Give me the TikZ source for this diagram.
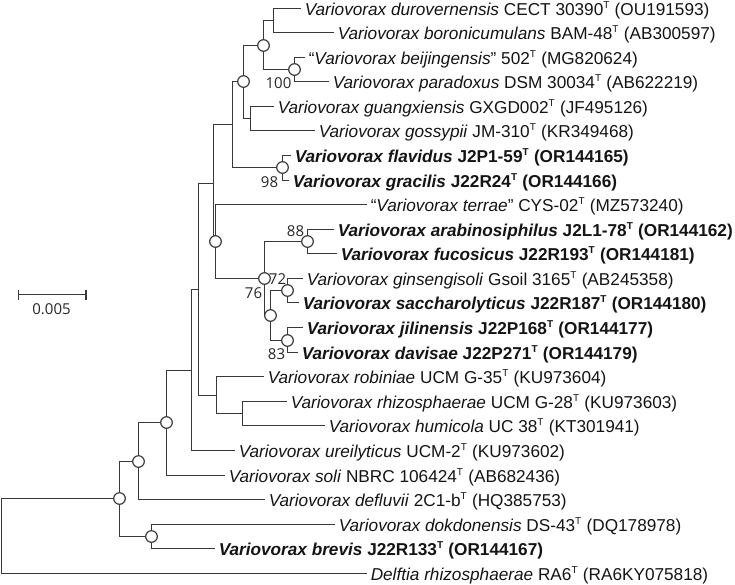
\documentclass[tikz,border=0pt]{standalone}
\usepackage{fontspec}
\setmainfont{Liberation Sans}
\newfontfamily\bsfont{Open Sans}
\usetikzlibrary{arrows.meta}
\newcommand\supT{\textsuperscript{\fontsize{10}{10}\selectfont T}}

\begin{document}
\begin{tikzpicture}
    [x=1pt, y=-1pt,
    line width=1.5pt,
    draw=black!78,
    taxon/.style={
      anchor=west,
      inner xsep=3pt,
      inner ysep=0pt,
      text height=16pt,
      text depth=3pt,
      text=black!92,
      font=\fontsize{17.2}{20}\selectfont},
    bsnode/.style={
      circle,
      draw=black!78,
      fill=white,
      line width=1.2pt,
      minimum size=11.6pt,
      inner sep=0pt},
    bslabel/.style={
      inner sep=0pt,
      text=black!85,
      font=\bsfont\fontsize{15}{17}\selectfont}
    ]
    \useasboundingbox (0,0) rectangle (735,584);

    % taxa
    \node (t1) [taxon] at (301, 8.5) {\textit{Variovorax durovernensis} CECT 30390\supT{} (OU191593)};
    \node (t2) [taxon] at (334, 32.5) {\textit{Variovorax boronicumulans} BAM-48\supT{} (AB300597)};
    \node (t3) [taxon] at (305, 57.5) {“\textit{Variovorax beijingensis}” 502\supT{} (MG820624)};
    \node (t4) [taxon] at (329, 81.5) {\textit{Variovorax paradoxus} DSM 30034\supT{} (AB622219)};
    \node (t5) [taxon] at (274, 106.5) {\textit{Variovorax guangxiensis} GXGD002\supT{} (JF495126)};
    \node (t6) [taxon] at (315, 130.5) {\textit{Variovorax gossypii} JM-310\supT{} (KR349468)};
    \node (t7) [taxon] at (291, 155.5) {\textbf{\textit{Variovorax flavidus} J2P1-59\supT{} (OR144165)}};
    \node (t8) [taxon] at (289, 180.5) {\textbf{\textit{Variovorax gracilis} J22R24\supT{} (OR144166)}};
    \node (t9) [taxon] at (367, 204.5) {“\textit{Variovorax terrae}” CYS-02\supT{} (MZ573240)};
    \node (t10) [taxon] at (334, 229.5) {\textbf{\textit{Variovorax arabinosiphilus} J2L1-78\supT{} (OR144162)}};
    \node (t11) [taxon] at (337, 253.5) {\textbf{\textit{Variovorax fucosicus} J22R193\supT{} (OR144181)}};
    \node (t12) [taxon] at (303, 278.5) {\textit{Variovorax ginsengisoli} Gsoil 3165\supT{} (AB245358)};
    \node (t13) [taxon] at (299, 302.5) {\textbf{\textit{Variovorax saccharolyticus} J22R187\supT{} (OR144180)}};
    \node (t14) [taxon] at (303, 327.5) {\textbf{\textit{Variovorax jilinensis} J22P168\supT{} (OR144177)}};
    \node (t15) [taxon] at (298, 352.5) {\textbf{\textit{Variovorax davisae} J22P271\supT{} (OR144179)}};
    \node (t16) [taxon] at (264, 376.5) {\textit{Variovorax robiniae} UCM G-35\supT{} (KU973604)};
    \node (t17) [taxon] at (287, 401.5) {\textit{Variovorax rhizosphaerae} UCM G-28\supT{} (KU973603)};
    \node (t18) [taxon] at (325, 425.5) {\textit{Variovorax humicola} UC 38\supT{} (KT301941)};
    \node (t19) [taxon] at (235, 450.5) {\textit{Variovorax ureilyticus} UCM-2\supT{} (KU973602)};
    \node (t20) [taxon] at (225, 475.5) {\textit{Variovorax soli} NBRC 106424\supT{} (AB682436)};
    \node (t21) [taxon] at (265, 499.5) {\textit{Variovorax defluvii} 2C1-b\supT{} (HQ385753)};
    \node (t22) [taxon] at (335, 524.5) {\textit{Variovorax dokdonensis} DS-43\supT{} (DQ178978)};
    \node (t23) [taxon] at (215, 548.5) {\textbf{\textit{Variovorax brevis} J22R133\supT{} (OR144167)}};
    \node (t24) [taxon] at (367, 573.5) {\textit{Delftia rhizosphaerae} RA6\supT{} (RA6KY075818)};

    % inner nodes
    \coordinate (root) at (1.5, 536);
    \coordinate (nA) at (119.5, 498.5);
    \coordinate (nB) at (138.5, 461.5);
    \coordinate (nC) at (151.5, 536.5);
    \coordinate (nD) at (166.5, 422.5);
    \coordinate (nE) at (191.5, 370.5);
    \coordinate (nF) at (198.5, 289.5);
    \coordinate (nW) at (216.5, 395.5);
    \coordinate (nV) at (242.5, 413.5);
    \coordinate (nG) at (213.5, 183.5);
    \coordinate (nN) at (232.5, 124.5);
    \coordinate (nM) at (243.5, 81.5);
    \coordinate (nI) at (263.5, 45.5);
    \coordinate (nJ) at (273.5, 20.5);
    \coordinate (nK) at (294.5, 69.5);
    \coordinate (nL) at (250.5, 118.5);
    \coordinate (nO) at (282.5, 167.5);
    \coordinate (nH) at (215.5, 241.5);
    \coordinate (nP) at (264.5, 278.5);
    \coordinate (nR) at (307.5, 241.5);
    \coordinate (nU) at (270.5, 315.5);
    \coordinate (nS) at (287.5, 290.5);
    \coordinate (nT) at (287.5, 340.5);

    % branches
    \draw (t1.west) -| (nJ) |- (t2.west);
    \draw (t3.west) -| (nK) |- (t4.west);
    \draw (nJ) -| (nI) |- (nK);
    \draw (t5.west) -| (nL) |- (t6.west);
    \draw (nI) -| (nM) |- (nL);
    \draw (t7.west) -| (nO) |- (t8.west);
    \draw (nM) -| (nN) |- (nO);
    \draw (t10.west) -| (nR) |- (t11.west);
    \draw (t12.west) -| (nS) |- (t13.west);
    \draw (t14.west) -| (nT) |- (t15.west);
    \draw (nS) -| (nU) |- (nT);
    \draw (nR) -| (nP) |- (nU);
    \draw (t9.west) -| (nH) |- (nP);
    \draw (nN) -| (nG) |- (nH);
    \draw (t17.west) -| (nV) |- (t18.west);
    \draw (t16.west) -| (nW) |- (nV);
    \draw (nG) -| (nF) |- (nW);
    \draw (nF) -| (nE) |- (t19.west);
    \draw (nE) -| (nD) |- (t20.west);
    \draw (nD) -| (nB) |- (t21.west);
    \draw (t22.west) -| (nC) |- (t23.west);
    \draw (nB) -| (nA) |- (nC);
    \draw (nA) -| (root) |- (t24.west);

    % bootstrap circles
    \foreach \n in {A,B,C,D,H,M,I,K,O,P,R,U,S,T}
      \node (c\n) [bsnode] at (n\n) {};

    % support values
    \node (b100) [bslabel] at ([xshift=-16pt, yshift=-14pt]nK) {100};
    \node (b98) [bslabel] at ([xshift=-13pt, yshift=-14.5pt]nO) {98};
    \node (b88) [bslabel] at ([xshift=-12pt, yshift=10.5pt]nR) {88};
    \node (b72) [bslabel] at ([xshift=-10pt, yshift=11pt]nS) {72};
    \node (b76) [bslabel] at ([xshift=-11pt, yshift=-15pt]nP) {76};
    \node (b83) [bslabel] at ([xshift=-11pt, yshift=-13.5pt]nT) {83};

    % scale bar
    \coordinate (sbL) at (17.5, 294.5);
    \coordinate (sbR) at (86.5, 294.5);
    \draw[{Bar[width=10pt]}-{Bar[width=10pt]}] (sbL) -- (sbR);
    \node (sbtext) [bslabel] at (51.5, 309) {0.005};
\end{tikzpicture}
\end{document}
